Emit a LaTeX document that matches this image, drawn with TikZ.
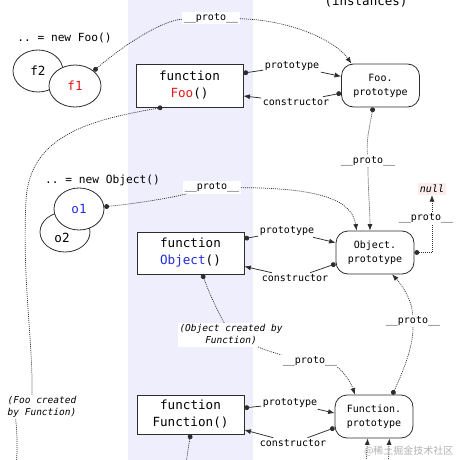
\documentclass[tikz,border=0pt]{standalone}
\usepackage{fontspec}
\setmonofont{DejaVu Sans Mono}
\newfontfamily\cjkfont{Noto Sans CJK SC}
\usetikzlibrary{arrows.meta,shapes.geometric,calc}
\definecolor{band}{RGB}{238,238,252}
\definecolor{fred}{RGB}{225,25,25}
\definecolor{oblue}{RGB}{35,45,220}
\definecolor{nullbg}{RGB}{252,236,236}
\definecolor{edgec}{RGB}{45,45,45}
\newcommand\protolbl{\_\_proto\_\_}
\begin{document}
\begin{tikzpicture}[x=1pt,y=-1pt,
  fnbox/.style={draw=edgec, line width=0.8pt, fill=white, minimum width=107pt, inner sep=0pt, align=center, font=\ttfamily\fontsize{12.6}{17}\selectfont},
  protobox/.style={draw=edgec, line width=0.8pt, fill=white, rounded corners=12pt, minimum width=78pt, minimum height=43pt, inner sep=0pt, align=center, font=\ttfamily\fontsize{10}{14}\selectfont},
  inst/.style={draw=edgec, line width=0.8pt, fill=white, ellipse, inner sep=0pt, font=\ttfamily\fontsize{12.6}{15}\selectfont},
  lbl/.style={fill=white, inner sep=1.5pt, font=\ttfamily\fontsize{10}{12}\selectfont},
  note/.style={fill=white, inner sep=1.5pt, align=center, font=\ttfamily\itshape\fontsize{9.5}{12}\selectfont},
  dotline/.style={draw=edgec, line width=0.7pt, dash pattern=on 1pt off 1pt},
  solidline/.style={draw=edgec, line width=0.75pt},
  dS/.style={{Circle[length=4.8pt]}-},
  aE/.style={-{Latex[length=6.5pt,width=5pt]}},
  dA/.style={{Circle[length=4.8pt]}-{Latex[length=6.5pt,width=5pt]}},
]
\useasboundingbox (0,0) rectangle (460,460);
\clip (0,0) rectangle (460,460);
\fill[band] (128,0) rectangle (253,460);

% top text (cut off at the top edge, as in the reference)
\node[font=\ttfamily\fontsize{12.5}{15}\selectfont, anchor=base] (instT) at (366,5.5) {(instances)};

% function boxes and prototype objects
\node[fnbox, minimum height=43pt] (fooF) at (189.5,85.5) {function\\\textcolor{fred}{Foo}()};
\node[protobox] (fooP) at (380.5,85.5) {Foo.\\prototype};
\node[fnbox, minimum height=42pt] (objF) at (190.5,253) {function\\\textcolor{oblue}{Object}()};
\node[protobox] (objP) at (375,252.5) {Object.\\prototype};
\node[fnbox, minimum height=39pt] (funF) at (190.5,414.5) {function\\Function()};
\node[protobox] (funP) at (374,416.5) {Function.\\prototype};

% instances
\node[font=\ttfamily\fontsize{11.2}{13}\selectfont] (newfoo) at (64.5,38) {.. = new Foo()};
\node[inst, minimum width=50pt, minimum height=42pt] (f2) at (38,71) {f2};
\node[inst, minimum width=52pt, minimum height=42pt, text=fred] (f1) at (75,86) {f1};
\node[font=\ttfamily\fontsize{11.2}{13}\selectfont] (newobj) at (102.5,180) {.. = new Object()};
\node[inst, minimum width=50pt, minimum height=40pt] (o2) at (65,232) {};
\node[font=\ttfamily\fontsize{12.6}{15}\selectfont] (o2t) at (62,238) {o2};
\node[inst, minimum width=50pt, minimum height=42pt, text=oblue] (o1) at (79,209) {o1};

% labels
\node[lbl] (protoL1) at (292,66) {prototype};
\node[lbl] (consL1) at (296,102) {constructor};
\node[lbl] (protoL2) at (287,231) {prototype};
\node[lbl] (consL2) at (295,278) {constructor};
\node[lbl] (protoL3) at (290,403) {prototype};
\node[lbl] (consL3) at (293,443) {constructor};
\node[lbl] (p1) at (211,18) {\protolbl};
\node[lbl] (p2) at (212,187.5) {\protolbl};
\node[lbl] (p3) at (368,161) {\protolbl};
\node[note] (p5) at (231,335) {(Object created by\\Function)};
\node[lbl] (p6) at (310,361) {\protolbl};
\node[note] (p7) at (42,407) {(Foo created\\by Function)};
\node[lbl] (p8) at (413,321) {\protolbl};
\node[fill=nullbg, inner sep=2pt, font=\ttfamily\itshape\fontsize{10}{12}\selectfont] (nullN) at (432,189) {null};

% prototype / constructor links
\draw[solidline, dS] (fooF.13) -- (protoL1);
\draw[solidline, aE] (protoL1) -- (fooP.167);
\draw[solidline, dS] (fooP.-169) -- (consL1);
\draw[solidline, aE] (consL1) -- (fooF.-11);
\draw[solidline, dS] (objF.15) -- (protoL2);
\draw[solidline, aE] (protoL2) -- (objP.166);
\draw[solidline, dS] (objP.-164) -- (consL2);
\draw[solidline, aE] (consL2) -- (objF.-14);
\draw[solidline, dS] (funF.7) -- (protoL3);
\draw[solidline, aE] (protoL3) -- (funP.175);
\draw[solidline, dS] (funP.-164) -- (consL3);
\draw[solidline, aE] (consL3) -- (funF.-16);

% __proto__ chains
\draw[dotline, dS] (f1.39) .. controls (130,40) and (165,20) .. (p1);
\draw[dotline, aE] (p1) .. controls (290,20) and (335,40) .. (fooP.143);
\draw[dotline, dS] (o1.5) .. controls (140,203) and (170,198) .. (p2);
\draw[dotline, aE] (p2) .. controls (320,188) and (352,200) .. (objP.130);
\draw[dotline, dS] (fooP.-109) .. controls (370,125) and (366,140) .. (p3);
\draw[dotline, aE] (p3) .. controls (368,190) and (370,210) .. (objP.103);
\draw[dotline, dA] (objP.east) -| node[lbl, pos=0.8, xshift=-6pt] (p4) {\protolbl} (nullN.south);
\draw[dotline, dS] (objF.-61) .. controls (210,295) and (218,312) .. (p5);
\draw[dotline] (p5) .. controls (265,350) and (278,354) .. (p6);
\draw[dotline, aE] (p6) .. controls (340,368) and (350,380) .. (funP.131);
\draw[dotline, dS] (fooF.-141) .. controls (90,120) and (30,135) .. (26,200) .. controls (22,280) and (33,340) .. (p7.129);
\coordinate (offA) at (16,470);
\draw[dotline] (p7.-155) .. controls (18,440) and (17,455) .. (offA);
\draw[dotline, dS] (funP.50) .. controls (400,378) and (413,350) .. (p8);
\draw[dotline, aE] (p8) .. controls (412,300) and (402,285) .. (objP.-52);
\coordinate (offB) at (185,470);
\draw[dotline, dS] (funF.south) .. controls (188,450) .. (offB);
\coordinate (offC) at (365,475);
\coordinate (offD) at (388,475);
\draw[dotline, aE] (offC) -- (funP.-106);
\draw[dotline, aE] (offD) -- (funP.-55);

% watermark
\node[font=\cjkfont\fontsize{10}{12}\selectfont, text=black!30, anchor=east] (wm) at (457,451) {@稀土掘金技术社区};
\end{tikzpicture}
\end{document}
